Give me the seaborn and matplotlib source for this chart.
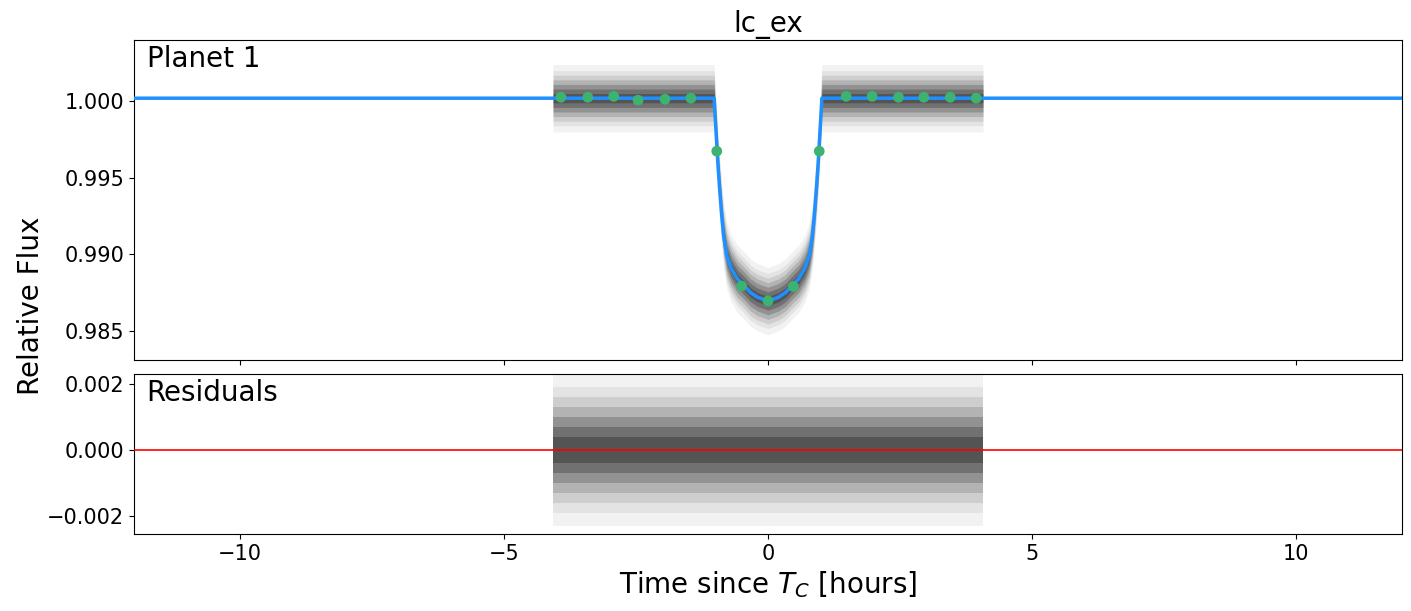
import numpy as np
import pandas as pd
import seaborn as sns
import matplotlib.pyplot as plt

# transit model (hours since Tc, relative flux)
model_t = [-12.0, -1.02, -1.0, -0.97, -0.95, -0.92, -0.88, -0.84, -0.78, -0.70,
           -0.58, -0.45, -0.33, -0.20, 0.0, 0.20, 0.33, 0.45, 0.58, 0.70,
           0.78, 0.84, 0.88, 0.92, 0.95, 0.97, 1.0, 1.02, 12.0]
model_f = [1.0002, 1.0002, 0.9990, 0.9972, 0.9960, 0.9945, 0.9927, 0.9912, 0.9899, 0.9891,
           0.9884, 0.98795, 0.9875, 0.9872, 0.98695, 0.9872, 0.9875, 0.98795, 0.9884, 0.9891,
           0.9899, 0.9912, 0.9927, 0.9945, 0.9960, 0.9972, 0.9990, 1.0002, 1.0002]

# binned points (green)
bin_t = [-3.92, -3.41, -2.92, -2.46, -1.95, -1.46, -0.97, -0.50, 0.0,
         0.48, 0.97, 1.48, 1.97, 2.47, 2.95, 3.45, 3.94]
bin_f = [1.00026, 1.00026, 1.00032, 1.00007, 1.00013, 1.00020, 0.99674, 0.98793, 0.98696,
         0.98790, 0.99674, 1.00032, 1.00032, 1.00026, 1.00026, 1.00026, 1.00020]

# extent of the observations and how far the unbinned points scatter around the model
data_start, data_end = -4.07, 4.07
spread_flux = [0.0022, 0.0018, 0.0015, 0.0012, 0.0009, 0.0006, 0.0003]
spread_resid = [0.0023, 0.0019, 0.0016, 0.0013, 0.0010, 0.0007, 0.0004]
spread_alpha = [0.05, 0.06, 0.09, 0.13, 0.18, 0.22, 0.25]

model = pd.DataFrame({"t": model_t, "flux": model_f})
binned = pd.DataFrame({"t": bin_t, "flux": bin_f})

# model restricted to the span that has data
obs_t = np.array([data_start] + [t for t in model_t if data_start < t < data_end] + [data_end])
obs_f = np.interp(obs_t, model_t, model_f)

fig = plt.figure(figsize=(14.11, 6.11), dpi=100)
ax1 = fig.add_axes([0.095, 0.4108, 0.8986, 0.5237])
ax2 = fig.add_axes([0.095, 0.126, 0.8986, 0.2619], sharex=ax1)

for w, a in zip(spread_flux, spread_alpha):
    ax1.fill_between(obs_t, obs_f - w, obs_f + w, color="k", alpha=a, lw=0)
sns.lineplot(data=model, x="t", y="flux", ax=ax1, color="dodgerblue", lw=2.5,
             sort=False, estimator=None, zorder=3)
sns.scatterplot(data=binned, x="t", y="flux", ax=ax1, color="mediumseagreen", s=60,
                edgecolor="none", zorder=4)
ax1.set_xlim(-12, 12)
ax1.set_ylim(0.9831, 1.0040)
ax1.set_yticks([0.985, 0.990, 0.995, 1.000])
ax1.set_yticklabels(["0.985", "0.990", "0.995", "1.000"])
ax1.set_xlabel("")
ax1.set_ylabel("")
ax1.tick_params(labelbottom=False, labelsize=15)
ax1.set_title("lc_ex", fontsize=20)
ax1.text(0.01, 0.985, "Planet 1", transform=ax1.transAxes, fontsize=20, va="top", ha="left")

zero_t = np.array([data_start, data_end])
for w, a in zip(spread_resid, spread_alpha):
    ax2.fill_between(zero_t, -w, w, color="k", alpha=a, lw=0)
ax2.axhline(0, color="red", lw=1.2, zorder=3)
ax2.set_ylim(-0.00255, 0.0023)
ax2.set_yticks([-0.002, 0.0, 0.002])
ax2.set_yticklabels(["\u22120.002", "0.000", "0.002"])
ax2.set_xticks([-10, -5, 0, 5, 10])
ax2.set_xticklabels(["\u221210", "\u22125", "0", "5", "10"])
ax2.tick_params(labelsize=15)
ax2.set_xlabel("Time since $T_C$ [hours]", fontsize=20)
ax2.text(0.01, 0.97, "Residuals", transform=ax2.transAxes, fontsize=20, va="top", ha="left")

fig.text(0.012, 0.5, "Relative Flux", rotation=90, fontsize=20, va="center", ha="left")

fig.savefig("out.png", dpi=100)
